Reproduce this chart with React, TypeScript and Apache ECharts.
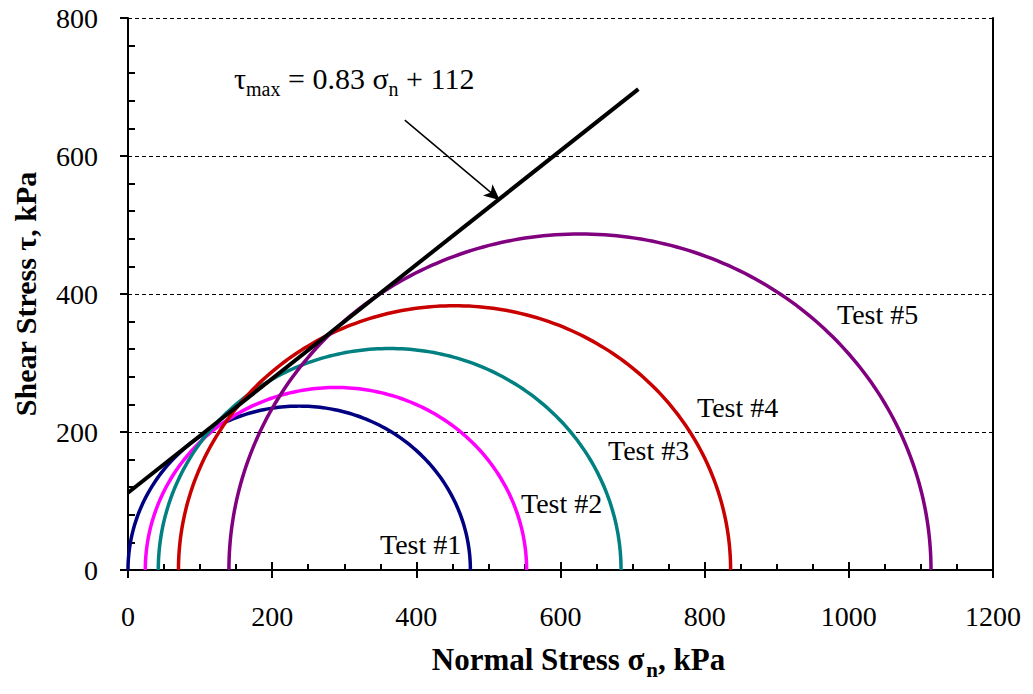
import React, { useEffect, useRef } from "react";
import * as echarts from "echarts";

const testNames = ["Test #1", "Test #2", "Test #3", "Test #4", "Test #5"];
const sigma3 = [0, 24, 42, 70, 140];
const sigma1 = [475, 553, 684, 836, 1114];
const circleColors = ["#000080", "#FF00FF", "#008080", "#C80000", "#800080"];
const envelope = [[0, 112], [708, 697]];
const arrowFrom = [384, 652];
const arrowTo = [516, 536];
const xTicks = { min: 0, max: 1200, interval: 200 };
const yTicks = { min: 0, max: 800, interval: 200 };

const FONT = "Liberation Serif";

export default function App() {
  const ref = useRef<HTMLDivElement>(null);
  useEffect(() => {
    const chart = echarts.init(ref.current!, null, { renderer: "svg" });
    const circleData = sigma3.map((s, i) => [s, sigma1[i]]);
    const labelPos = [
      [380, 530],
      [521, 489],
      [608, 436],
      [697, 393],
      [837, 300],
    ];
    const fmt = (v: number) => String(v);
    const tickText = { color: "#000", fontFamily: FONT, fontSize: 28, fontWeight: "normal", fontStyle: "normal" };
    chart.setOption({
      animation: false,
      backgroundColor: "#fff",
      textStyle: { fontFamily: FONT, color: "#000", fontWeight: "normal" },
      grid: { left: 128, top: 18, right: 40, bottom: 124, containLabel: false, outerBoundsMode: "none" },
      xAxis: [
        {
          type: "value",
          position: "bottom",
          ...xTicks,
          axisLine: { show: true, lineStyle: { color: "#000", width: 2 } },
          axisTick: { show: true, length: 8, lineStyle: { color: "#000", width: 2 } },
          axisLabel: { ...tickText, margin: 32, formatter: fmt },
          splitLine: { show: false },
          name: "{b|Normal Stress σ}{s|n}{b|, kPa}",
          nameLocation: "middle",
          nameGap: 74,
          nameTextStyle: {
            fontFamily: FONT,
            padding: [0, 0, 0, 36],
            rich: {
              b: { fontFamily: FONT, fontSize: 31, fontWeight: "bold", color: "#000", verticalAlign: "top", lineHeight: 32 },
              s: { fontFamily: FONT, fontSize: 21, fontWeight: "bold", color: "#000", verticalAlign: "top", lineHeight: 21, padding: [15, 0, 0, 2] },
            },
          },
        },
        {
          type: "value",
          position: "bottom",
          ...xTicks,
          axisLine: { show: false },
          axisTick: { show: true, inside: true, length: 8, lineStyle: { color: "#000", width: 2 } },
          minorTick: { show: true, splitNumber: 4, length: 6, lineStyle: { color: "#000", width: 2 } },
          axisLabel: { show: false },
          splitLine: { show: false },
        },
      ],
      yAxis: [
        {
          type: "value",
          position: "left",
          ...yTicks,
          axisLine: { show: true, lineStyle: { color: "#000", width: 2 } },
          axisTick: { show: true, length: 8, lineStyle: { color: "#000", width: 2 } },
          axisLabel: { ...tickText, margin: 30, formatter: fmt },
          splitLine: { show: true, lineStyle: { color: "#000", width: 1, type: [4, 3] } },
          name: "Shear Stress τ, kPa",
          nameLocation: "middle",
          nameGap: 88,
          nameRotate: 90,
          nameTextStyle: { fontFamily: FONT, fontSize: 30, fontWeight: "bold", color: "#000" },
        },
        {
          type: "value",
          position: "left",
          ...yTicks,
          axisLine: { show: false },
          axisTick: { show: false, inside: true },
          minorTick: { show: true, splitNumber: 5, length: 7, lineStyle: { color: "#000", width: 2 } },
          axisLabel: { show: false },
          splitLine: { show: false },
        },
        {
          type: "value",
          position: "right",
          ...yTicks,
          axisLine: { show: true, lineStyle: { color: "#000", width: 2 } },
          axisTick: { show: false },
          axisLabel: { show: false },
          splitLine: { show: false },
        },
      ],
      series: [
        {
          type: "custom",
          xAxisIndex: 0,
          yAxisIndex: 0,
          data: circleData,
          renderItem: (params: any, api: any) => {
            const s3 = api.value(0);
            const s1 = api.value(1);
            const c = (s1 + s3) / 2;
            const r = (s1 - s3) / 2;
            const pts: number[][] = [];
            for (let i = 0; i <= 180; i++) {
              const t = (Math.PI * i) / 180;
              pts.push(api.coord([c + r * Math.cos(t), r * Math.sin(t)]));
            }
            return {
              type: "polyline",
              shape: { points: pts },
              style: { stroke: circleColors[params.dataIndex], lineWidth: 3.5, fill: null },
            };
          },
          z: 2,
        },
        {
          type: "line",
          xAxisIndex: 0,
          yAxisIndex: 0,
          data: envelope,
          showSymbol: false,
          symbol: "none",
          lineStyle: { color: "#000", width: 4 },
          z: 3,
          markLine: {
            silent: true,
            symbol: ["none", "arrow"],
            symbolSize: [11, 16],
            label: { show: false },
            lineStyle: { color: "#000", width: 1.5, type: "solid" },
            data: [[{ coord: arrowFrom }, { coord: arrowTo }]],
          },
        },
      ],
      graphic: [
        ...testNames.map((t, i) => ({
          type: "text",
          left: labelPos[i][0],
          top: labelPos[i][1],
          style: { text: t, fontFamily: FONT, fontSize: 28, fill: "#000" },
          z: 10,
        })),
        {
          type: "text",
          left: 234,
          top: 63,
          style: {
            text: "{b|τ}{s|max}{b| = 0.83 σ}{s|n}{b| + 112}",
            fontFamily: FONT,
            fontSize: 30,
            fontWeight: "normal",
            fill: "#000",
            rich: {
              b: { fontFamily: FONT, fontSize: 30, fontWeight: "normal", fontStyle: "normal", fill: "#000", verticalAlign: "top", lineHeight: 31 },
              s: { fontFamily: FONT, fontSize: 20, fontWeight: "normal", fontStyle: "normal", fill: "#000", verticalAlign: "top", lineHeight: 20, padding: [16, 0, 0, 0] },
            },
          },
          z: 10,
        },
      ],
    });
    return () => chart.dispose();
  }, []);
  return (
    <div
      ref={ref}
      style={{ position: "fixed", left: 0, top: 0, width: 1033, height: 694, background: "#fff" }}
    />
  );
}
